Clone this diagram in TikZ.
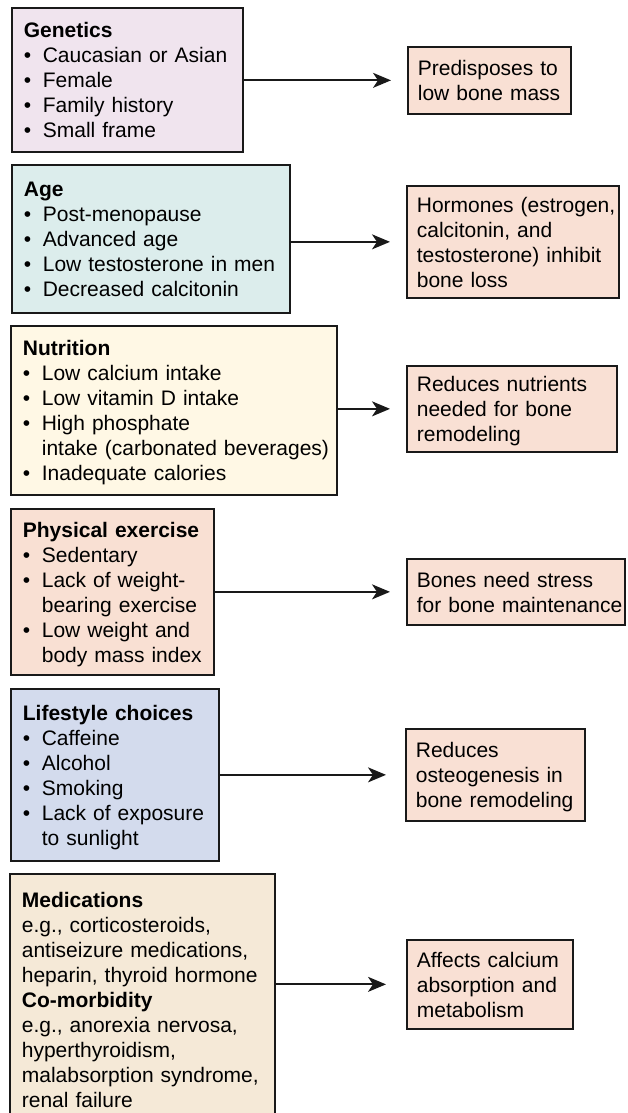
\documentclass[tikz,border=0pt]{standalone}
\usepackage{fontspec}
\setmainfont{Liberation Sans}
\usetikzlibrary{arrows.meta}
\definecolor{cgen}{RGB}{240,228,238}
\definecolor{cage}{RGB}{220,237,236}
\definecolor{cnut}{RGB}{255,248,229}
\definecolor{cphy}{RGB}{249,224,211}
\definecolor{clif}{RGB}{211,219,237}
\definecolor{cmed}{RGB}{245,233,215}
\definecolor{cres}{RGB}{249,224,212}
\definecolor{cline}{RGB}{25,25,25}
\newcommand{\itm}[1]{\makebox[19pt][l]{\textbullet}#1}
\newcommand{\itc}[1]{\hspace*{19pt}#1}
\newcommand{\lns}[1]{\raisebox{-3pt}[\height][\depth]{\begin{tabular}{@{}l@{}}#1\end{tabular}}}
\tikzset{
  box/.style={draw=cline, line width=1.7pt, anchor=north west, inner ysep=0pt,
    align=left, font=\fontsize{21}{25}\selectfont},
  leftbox/.style={box, inner xsep=12pt},
  resbox/.style={box, inner xsep=10pt, fill=cres},
  arr/.style={draw=cline, line width=1.8pt, -{Stealth[length=18pt,width=15pt,inset=5pt]}, shorten >=16pt},
}
\begin{document}
\begin{tikzpicture}[x=1pt,y=-1pt]
\useasboundingbox (0,0) rectangle (628,1113);
% left boxes
\node[leftbox, fill=cgen, text width=207pt, minimum height=144pt] (L1) at (11,7)
  {\lns{\textbf{Genetics}\\ \itm{Caucasian or Asian}\\ \itm{Female}\\ \itm{Family history}\\ \itm{Small frame}}};
\node[leftbox, fill=cage, text width=254pt, minimum height=148pt] (L2) at (11,164)
  {\lns{\textbf{Age}\\ \itm{Post-menopause}\\ \itm{Advanced age}\\ \itm{Low testosterone in men}\\ \itm{Decreased calcitonin}}};
\node[leftbox, fill=cnut, text width=302pt, minimum height=169pt] (L3) at (10,325)
  {\lns{\textbf{Nutrition}\\ \itm{Low calcium intake}\\ \itm{Low vitamin D intake}\\ \itm{High phosphate}\\ \itc{intake (carbonated beverages)}\\ \itm{Inadequate calories}}};
\node[leftbox, fill=cphy, text width=179pt, minimum height=166pt] (L4) at (10,508)
  {\lns{\textbf{Physical exercise}\\ \itm{Sedentary}\\ \itm{Lack of weight-}\\ \itc{bearing exercise}\\ \itm{Low weight and}\\ \itc{body mass index}}};
\node[leftbox, fill=clif, text width=184pt, minimum height=172pt] (L5) at (10,688)
  {\lns{\textbf{Lifestyle choices}\\ \itm{Caffeine}\\ \itm{Alcohol}\\ \itm{Smoking}\\ \itm{Lack of exposure}\\ \itc{to sunlight}}};
\node[leftbox, fill=cmed, text width=241pt, minimum height=252pt] (L6) at (9,873)
  {\lns{\textbf{Medications}\\ e.g., corticosteroids,\\ antiseizure medications,\\ heparin, thyroid hormone\\ \textbf{Co-morbidity}\\ e.g., anorexia nervosa,\\ hyperthyroidism,\\ malabsorption syndrome,\\ renal failure}};
% result boxes
\node[resbox, text width=143pt, minimum height=67pt] (R1) at (407,46)
  {\lns{Predisposes to\\ low bone mass}};
\node[resbox, text width=192pt, minimum height=112pt] (R2) at (406,185)
  {\lns{Hormones (estrogen,\\ calcitonin, and\\ testosterone) inhibit\\ bone loss}};
\node[resbox, text width=190pt, minimum height=86pt] (R3) at (406,365)
  {\lns{Reduces nutrients\\ needed for bone\\ remodeling}};
\node[resbox, text width=198pt, minimum height=66pt] (R4) at (406,558)
  {\lns{Bones need stress\\ for bone maintenance}};
\node[resbox, text width=159pt, minimum height=92pt] (R5) at (405,728)
  {\lns{Reduces\\ osteogenesis in\\ bone remodeling}};
\node[resbox, text width=146pt, minimum height=89pt] (R6) at (406,939)
  {\lns{Affects calcium\\ absorption and\\ metabolism}};
% arrows
\draw[arr] (L1.east |- R1.west) -- (R1.west);
\draw[arr] (L2.east |- R2.west) -- (R2.west);
\draw[arr] (L3.east |- R3.west) -- (R3.west);
\draw[arr] (L4.east |- R4.west) -- (R4.west);
\draw[arr, shorten >=19pt] (L5.east |- R5.west) -- (R5.west);
\draw[arr, shorten >=20pt] (L6.east |- R6.west) -- (R6.west);
\end{tikzpicture}
\end{document}
